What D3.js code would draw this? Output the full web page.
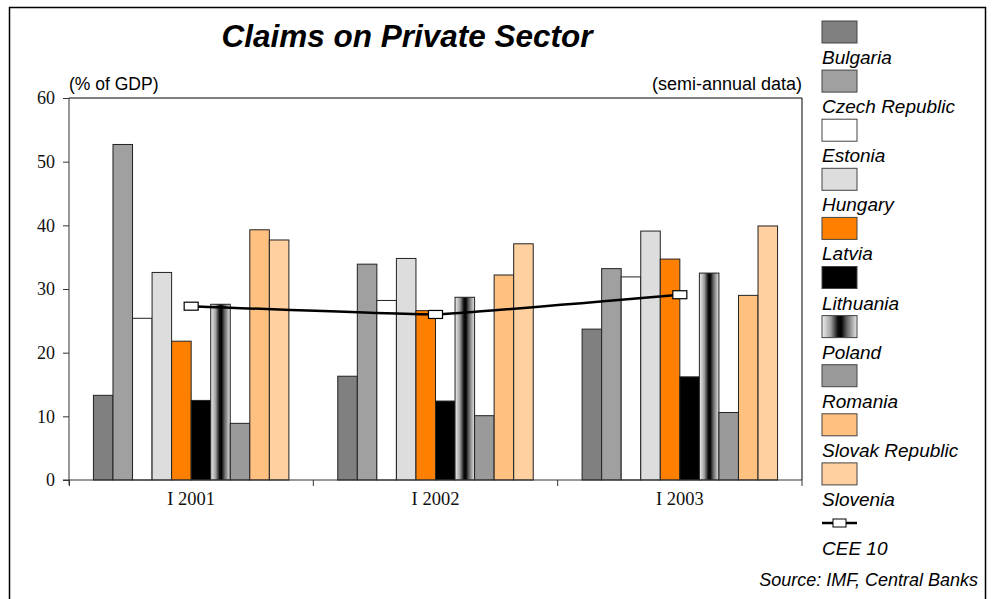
<!DOCTYPE html>
<html><head><meta charset="utf-8">
<script src="https://cdn.jsdelivr.net/npm/d3@7"></script>
<style>body{margin:0;background:#fff}svg{display:block}</style>
</head><body>
<svg id="c" width="995" height="599"></svg>
<script>
const periods = ["I 2001", "I 2002", "I 2003"];
const countries = ["Bulgaria","Czech Republic","Estonia","Hungary","Latvia","Lithuania","Poland","Romania","Slovak Republic","Slovenia"];
const bulgaria = [13.3, 16.3, 23.7];
const czech = [52.7, 33.9, 33.2];
const estonia = [25.4, 28.2, 31.9];
const hungary = [32.6, 34.8, 39.1];
const latvia = [21.8, 26.6, 34.7];
const lithuania = [12.5, 12.4, 16.2];
const poland = [27.6, 28.7, 32.5];
const romania = [8.9, 10.1, 10.6];
const slovak = [39.3, 32.2, 29.0];
const slovenia = [37.7, 37.1, 39.9];
const cee10 = [27.3, 26.0, 29.1];
const yTicks = [0, 10, 20, 30, 40, 50, 60];
const seriesValues = [bulgaria, czech, estonia, hungary, latvia, lithuania, poland, romania, slovak, slovenia];
const fills = ["#808080","#a0a0a0","#ffffff","#dddddd","#ff8000","#000000","url(#lith)","#9a9a9a","#ffc080","#ffd0a0"];

const svg = d3.select("#c");
const defs = svg.append("defs");
const g = defs.append("linearGradient").attr("id","lith").attr("x1","0").attr("x2","1").attr("y1","0").attr("y2","0");
[[0,"#f0f0f0"],[0.25,"#a0a0a0"],[0.45,"#101010"],[0.55,"#000000"],[0.7,"#606060"],[1,"#e8e8e8"]].forEach(s=>g.append("stop").attr("offset",s[0]).attr("stop-color",s[1]));

svg.append("rect").attr("x",9.5).attr("y",7.5).attr("width",976).attr("height",620).attr("fill","none").attr("stroke","#000").attr("stroke-width",1.5);

const L=69, R=802, T=98, B=480;
const x0 = d3.scaleBand().domain(periods).range([L,R]).paddingInner(0).paddingOuter(0);
const x1 = d3.scaleBand().domain(countries).range([x0.bandwidth()*0.1, x0.bandwidth()*0.9]);
const y = d3.scaleLinear().domain([0,60]).range([B,T]);

svg.append("line").attr("x1",L).attr("x2",R).attr("y1",T).attr("y2",T).attr("stroke","#000");
svg.append("line").attr("x1",R).attr("x2",R).attr("y1",T).attr("y2",B).attr("stroke","#000");

const grp = svg.append("g");
periods.forEach((p,i)=>{
  countries.forEach((c,j)=>{
    const v = seriesValues[j][i];
    grp.append("rect").attr("x",x0(p)+x1(c)).attr("y",y(v)).attr("width",x1.bandwidth()).attr("height",B-y(v))
      .attr("fill",fills[j]).attr("stroke","#222").attr("stroke-width",1);
  });
});

const serif = "Liberation Serif, Times New Roman, serif";
const sans = "Liberation Sans, Arial, sans-serif";
const yAxis = d3.axisLeft(y).tickValues(yTicks).tickSize(6).tickSizeOuter(0).tickPadding(8);
const ya = svg.append("g").attr("transform",`translate(${L},0)`).call(yAxis);
ya.select(".domain").attr("d",`M0,${T}V${B+5}`).attr("stroke","#333");
ya.selectAll("text").attr("font-family",serif).attr("font-size",18).attr("fill","#111");
ya.selectAll("line").attr("stroke","#333");

const xAxis = d3.axisBottom(x0).tickSize(0).tickPadding(12);
const xa = svg.append("g").attr("transform",`translate(0,${B})`).call(xAxis);
xa.select(".domain").attr("d",`M${L-6},0H${R}`).attr("stroke","#333");
xa.selectAll("text").attr("font-family",serif).attr("font-size",18.5).attr("fill","#111");
[L+0.5, x0(periods[1]), x0(periods[2]), R].forEach(xx=>{
  svg.append("line").attr("x1",xx).attr("x2",xx).attr("y1",B).attr("y2",B+6).attr("stroke","#333");
});

const cx = p => x0(p)+x0.bandwidth()/2;
const line = d3.line().x((d,i)=>cx(periods[i])).y(d=>y(d)).curve(d3.curveCardinal.tension(0.75));
svg.append("path").datum(cee10).attr("d",line).attr("fill","none").attr("stroke","#000").attr("stroke-width",2.5);
cee10.forEach((v,i)=>{
  svg.append("rect").attr("x",cx(periods[i])-7).attr("y",y(v)-4).attr("width",14).attr("height",8).attr("fill","#fff").attr("stroke","#000").attr("stroke-width",1.2);
});

svg.append("text").attr("x",407).attr("y",47).attr("text-anchor","middle").attr("font-family",sans).attr("font-size",31.5).attr("font-weight","bold").attr("font-style","italic").text("Claims on Private Sector");
svg.append("text").attr("x",L).attr("y",90).attr("font-family",sans).attr("font-size",17.5).text("(% of GDP)");
svg.append("text").attr("x",R).attr("y",90).attr("text-anchor","end").attr("font-family",sans).attr("font-size",18).text("(semi-annual data)");

const leg = svg.append("g");
const pitch = 49.1;
countries.forEach((c,j)=>{
  const top = 21 + j*pitch;
  leg.append("rect").attr("x",822).attr("y",top).attr("width",35).attr("height",22).attr("fill",fills[j]).attr("stroke","#444").attr("stroke-width",1);
  leg.append("text").attr("x",822).attr("y",top+43).attr("font-family",sans).attr("font-size",19).attr("font-style","italic").text(c);
});
const ly = 21 + 10*pitch + 11;
leg.append("line").attr("x1",822).attr("x2",857).attr("y1",ly).attr("y2",ly).attr("stroke","#000").attr("stroke-width",2.5);
leg.append("rect").attr("x",833).attr("y",ly-4).attr("width",13).attr("height",8).attr("fill","#fff").attr("stroke","#000");
leg.append("text").attr("x",822).attr("y",ly+32).attr("font-family",sans).attr("font-size",19).attr("font-style","italic").text("CEE 10");

svg.append("text").attr("x",978).attr("y",586).attr("text-anchor","end").attr("font-family",sans).attr("font-size",18).attr("font-style","italic").text("Source: IMF, Central Banks");
</script>
</body></html>
